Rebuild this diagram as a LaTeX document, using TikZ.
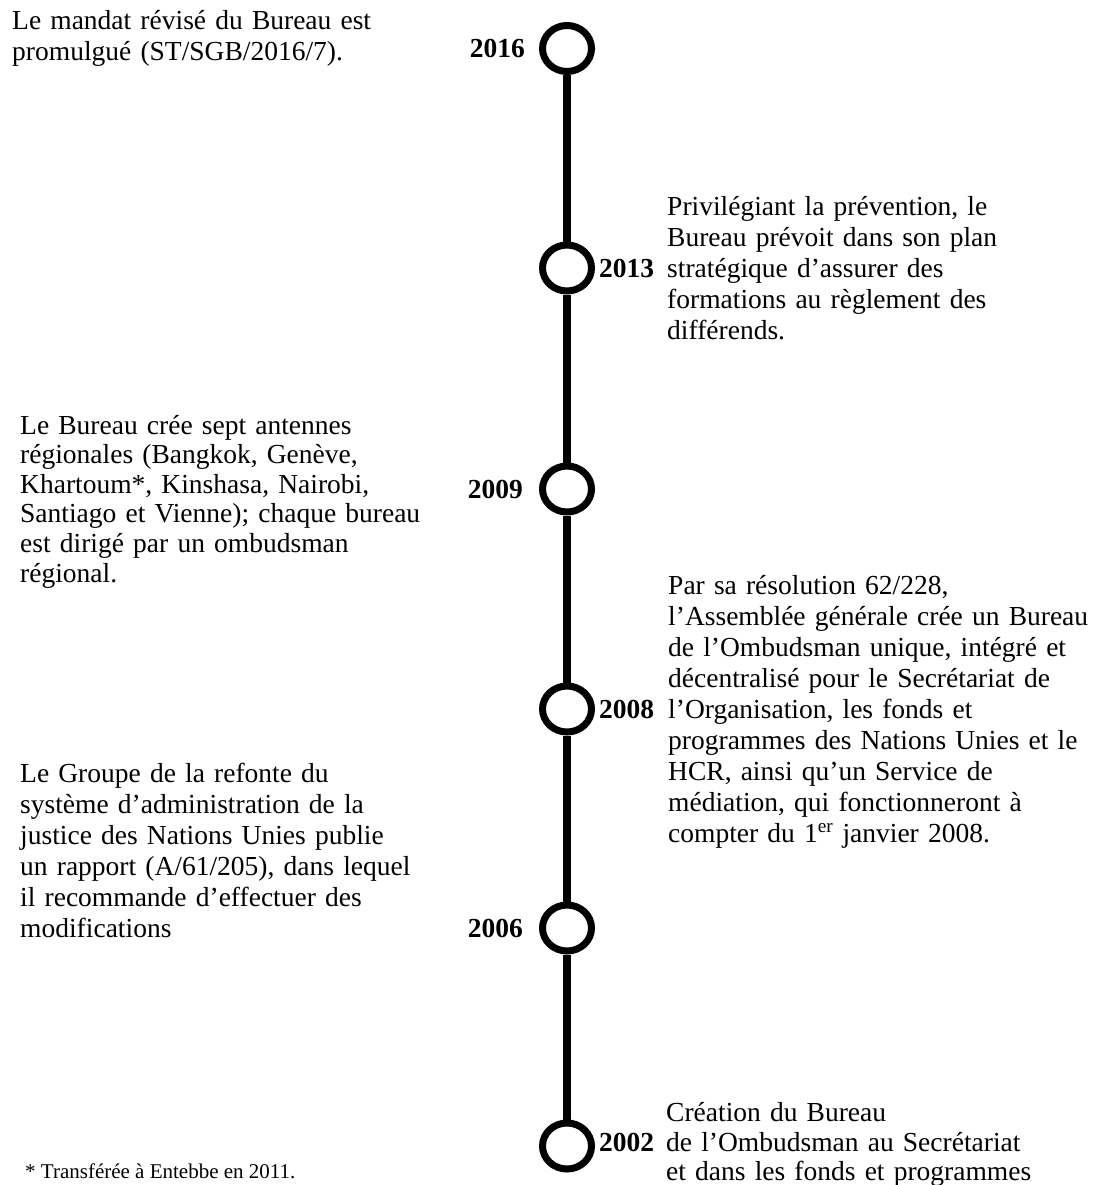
\documentclass[tikz,border=0pt]{standalone}
\usepackage{fontspec}
\setmainfont{Liberation Serif}
\usetikzlibrary{shapes.geometric}
\begin{document}
\begin{tikzpicture}[x=1pt,y=-1pt,
  yearcirc/.style={ellipse,draw=black,line width=7pt,fill=white,minimum width=49pt,minimum height=46pt,inner sep=0pt},
  conn/.style={line width=8pt,draw=black},
  yearlbl/.style={font=\fontsize{27.5}{31}\selectfont\bfseries,inner sep=0pt},
  body/.style={font=\fontsize{27.5}{31}\selectfont,inner sep=0pt,anchor=base west,align=left,text width=460pt},
  bodyb/.style={font=\fontsize{27.5}{29.6}\selectfont,inner sep=0pt,anchor=base west,align=left,text width=460pt}
]
\useasboundingbox (0,0) rectangle (1107,1185);
% circles
\node[yearcirc] (c2016) at (567,48.5) {};
\node[yearcirc] (c2013) at (567,268) {};
\node[yearcirc] (c2009) at (567,489) {};
\node[yearcirc] (c2008) at (567,709) {};
\node[yearcirc] (c2006) at (567,928) {};
\node[yearcirc] (c2002) at (567,1146) {};
% connectors
\draw[conn] (c2016.south) -- (c2013.north);
\draw[conn] (c2013.south) -- (c2009.north);
\draw[conn] (c2009.south) -- (c2008.north);
\draw[conn] (c2008.south) -- (c2006.north);
\draw[conn] (c2006.south) -- (c2002.north);
% year labels
\node[yearlbl,anchor=base east] (y2016) at (525,58) {2016};
\node[yearlbl,anchor=base west] (y2013) at (599,277) {2013};
\node[yearlbl,anchor=base east] (y2009) at (523,498) {2009};
\node[yearlbl,anchor=base west] (y2008) at (599,718) {2008};
\node[yearlbl,anchor=base east] (y2006) at (523,937) {2006};
\node[yearlbl,anchor=base west] (y2002) at (599,1151) {2002};
% texts
\node[body] (t2016) at (12,30) {Le mandat révisé du Bureau est\\promulgué (ST/SGB/2016/7).};
\node[body] (t2013) at (667,215) {Privilégiant la prévention, le\\Bureau prévoit dans son plan\\stratégique d’assurer des\\formations au règlement des\\différends.};
\node[bodyb] (t2009) at (20,434) {Le Bureau crée sept antennes\\régionales (Bangkok, Genève,\\Khartoum*, Kinshasa, Nairobi,\\Santiago et Vienne); chaque bureau\\est dirigé par un ombudsman\\régional.};
\node[body] (t2008) at (668,594) {Par sa résolution 62/228,\\l’Assemblée générale crée un Bureau\\de l’Ombudsman unique, intégré et\\décentralisé pour le Secrétariat de\\l’Organisation, les fonds et\\programmes des Nations Unies et le\\HCR, ainsi qu’un Service de\\médiation, qui fonctionneront à\\compter du 1\textsuperscript{er} janvier 2008.};
\node[body] (t2006) at (20,782) {Le Groupe de la refonte du\\système d’administration de la\\justice des Nations Unies publie\\un rapport (A/61/205), dans lequel\\il recommande d’effectuer des\\modifications};
\node[body,font=\fontsize{27.5}{29.5}\selectfont] (t2002) at (666,1121.5) {Création du Bureau\\de l’Ombudsman au Secrétariat\\et dans les fonds et programmes};
\node[inner sep=0pt,anchor=base west,font=\fontsize{21}{25}\selectfont] (foot) at (25,1178) {* Transférée à Entebbe en 2011.};
\end{tikzpicture}
\end{document}
